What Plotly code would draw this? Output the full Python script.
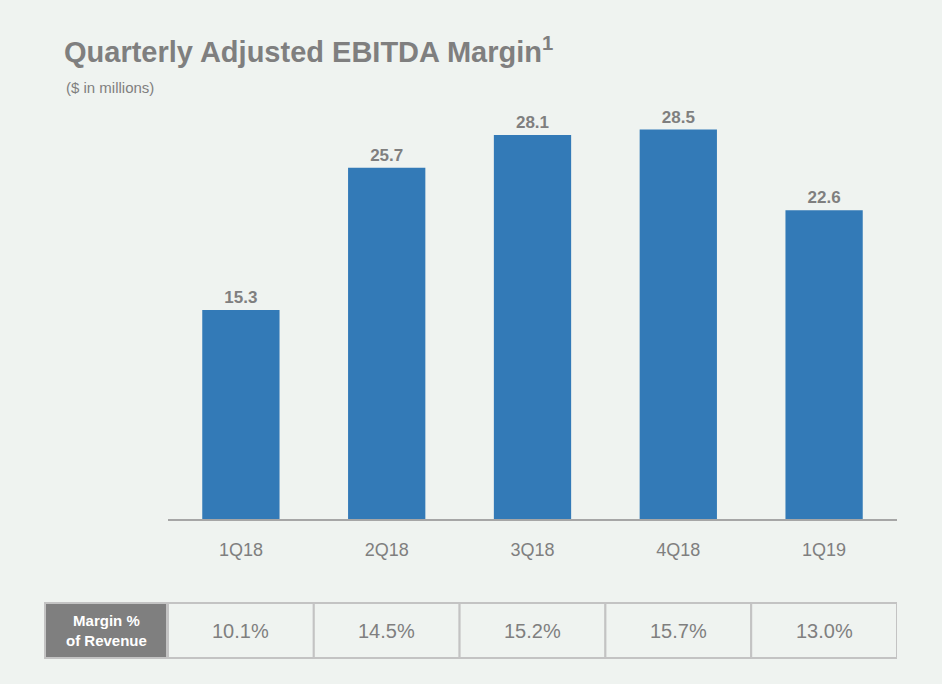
import plotly.graph_objects as go

quarters = ["1Q18", "2Q18", "3Q18", "4Q18", "1Q19"]
ebitda = [15.3, 25.7, 28.1, 28.5, 22.6]
margin_pct = ["10.1%", "14.5%", "15.2%", "15.7%", "13.0%"]
row_label = "Margin %<br>of Revenue"
title_text = "Quarterly Adjusted EBITDA Margin<sup>1</sup>"
subtitle_text = "($ in millions)"

BG = "#eff3f0"
GRAY = "#7f7f7f"
BAR = "#337ab7"
BORDER = "#c3c3c3"
FONT = "Liberation Sans"

W, H = 942, 684
L, R, T, B = 168, 45, 109, 165
plot_w = W - L - R
plot_h = H - T - B

xs = list(range(len(quarters)))

fig = go.Figure(
    go.Bar(
        x=xs,
        y=ebitda,
        width=0.53,
        marker=dict(color=BAR, line_width=0),
        texttemplate="<b>%{y:.1f}</b>",
        textposition="outside",
        textfont=dict(size=17, color=GRAY, family=FONT),
        cliponaxis=False,
        hoverinfo="skip",
    )
)

def py_to_paper(py):
    return (H - B - py) / plot_h

def px_to_paper(px):
    return (px - L) / plot_w

tbl_top = py_to_paper(603)
tbl_bot = py_to_paper(658)
tbl_mid = (tbl_top + tbl_bot) / 2

shapes = []
annotations = []
# header cell
hx0, hx1 = px_to_paper(45), px_to_paper(167)
shapes.append(dict(type="rect", xref="paper", yref="paper", x0=hx0, x1=hx1,
                   y0=tbl_bot, y1=tbl_top, fillcolor=GRAY,
                   line=dict(color=BORDER, width=2), layer="above"))
annotations.append(dict(xref="paper", yref="paper", x=(hx0 + hx1) / 2, y=tbl_mid,
                        text="<b>" + row_label + "</b>", showarrow=False,
                        font=dict(size=15, color="white", family=FONT),
                        xanchor="center", yanchor="middle"))
for i, m in zip(xs, margin_pct):
    shapes.append(dict(type="rect", xref="x", yref="paper", x0=i - 0.5, x1=i + 0.5,
                       y0=tbl_bot, y1=tbl_top, fillcolor=BG,
                       line=dict(color=BORDER, width=2), layer="above"))
    annotations.append(dict(xref="x", yref="paper", x=i, y=tbl_mid, text=m,
                            showarrow=False, font=dict(size=20, color=GRAY, family=FONT),
                            xanchor="center", yanchor="middle"))

annotations.append(dict(xref="paper", yref="paper", x=px_to_paper(64), y=py_to_paper(88),
                        text=subtitle_text, showarrow=False, xanchor="left", yanchor="middle",
                        font=dict(size=15, color=GRAY, family=FONT)))

fig.update_layout(
    width=W, height=H,
    margin=dict(l=L, r=R, t=T, b=B, pad=0),
    paper_bgcolor=BG, plot_bgcolor=BG,
    showlegend=False,
    title=dict(text="<b>" + title_text + "</b>", xref="container", yref="container",
               x=64 / W, xanchor="left", y=1 - 52 / H, yanchor="middle",
               font=dict(size=29, color=GRAY, family=FONT)),
    xaxis=dict(range=[-0.5, 4.5], tickvals=xs, ticktext=quarters, showline=True,
               linecolor="#a6a6a6", linewidth=2, ticks="", showgrid=False, zeroline=False,
               tickfont=dict(size=18, color=GRAY, family=FONT), ticklabelstandoff=13,
               fixedrange=True),
    yaxis=dict(range=[0, 30], visible=False, showgrid=False, zeroline=False, fixedrange=True),
    shapes=shapes,
    annotations=annotations,
)

fig.write_html("out.html")
